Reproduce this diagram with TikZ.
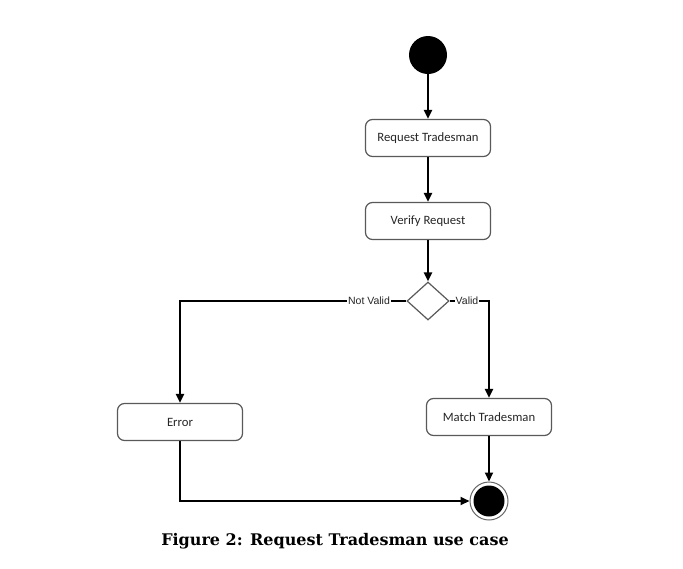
\documentclass[tikz,border=0pt]{standalone}
\usepackage{fontspec}
\setmainfont{Carlito}
\newfontfamily\labfont{Liberation Sans}
\newfontfamily\capfont{DejaVu Serif}
\usetikzlibrary{arrows.meta,shapes.geometric}
\begin{document}
\begin{tikzpicture}[x=1pt,y=-1pt,
  actbox/.style={draw=black!65,line width=1.2pt,rounded corners=7pt,fill=white,
    minimum width=125pt,minimum height=37pt,inner sep=0pt,font=\fontsize{12.7}{14}\selectfont,text=black!85},
  flow/.style={line width=2pt,-{Triangle[length=9pt,width=8pt]}},
  lab/.style={fill=white,inner sep=1pt,font=\labfont\fontsize{10.5}{12}\selectfont,text=black!85}]
\useasboundingbox (0,0) rectangle (683,568);
\fill[white] (0,0) rectangle (683,568);
\node[circle,fill=black,minimum size=38pt,inner sep=0pt] (start) at (428,55) {};
\node[actbox] (req) at (428,138) {Request Tradesman};
\node[actbox] (ver) at (428,221) {Verify Request};
\node[diamond,draw=black!65,line width=1.2pt,minimum width=42pt,minimum height=38pt,inner sep=0pt] (dec) at (428,301) {};
\node[actbox] (err) at (180,422) {Error};
\node[actbox] (match) at (489,417) {Match Tradesman};
\node[circle,draw=black!60,line width=1pt,minimum size=38pt,inner sep=0pt] (end) at (489,501) {};
\fill[black] (end.center) circle (15.5pt);
\coordinate (lc) at (180,301);
\coordinate (rc) at (489,301);
\coordinate (ec) at (180,501);
\draw[flow] (start) -- (req);
\draw[flow] (req) -- (ver);
\draw[flow] (ver) -- (dec.north);
\draw[flow] (dec.west) -- (lc) -- (err.north);
\draw[flow] (dec.east) -- (rc) -- (match.north);
\node[lab] (nv) at (369,301) {Not Valid};
\node[lab] (vl) at (467,301) {Valid};
\draw[flow] (match) -- (end);
\draw[flow] (err.south) -- (ec) -- (end.west);
\node[font=\capfont\bfseries\fontsize{16}{19}\selectfont] (cap) at (335,541) {Figure 2: Request Tradesman use case};
\end{tikzpicture}
\end{document}
